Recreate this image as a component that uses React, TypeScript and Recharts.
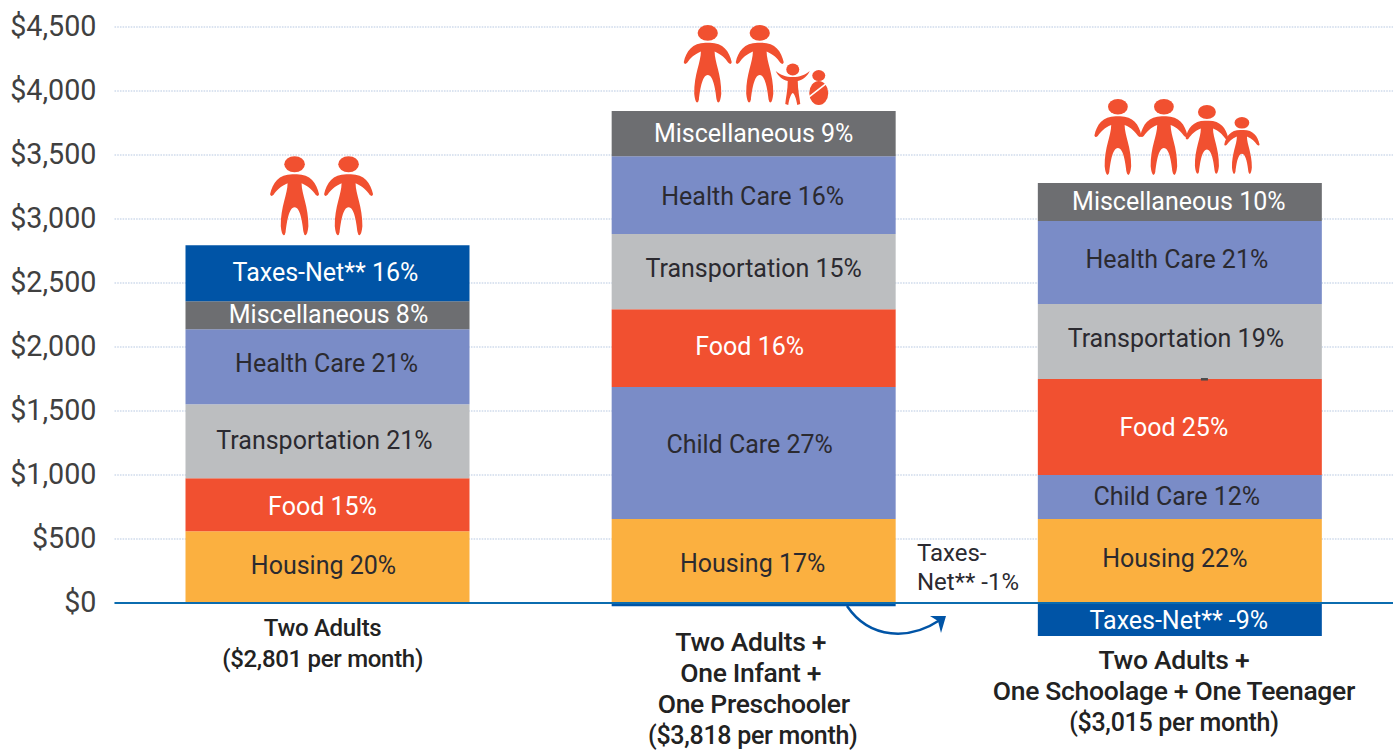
import {
  BarChart,
  Bar,
  XAxis,
  YAxis,
  CartesianGrid,
  LabelList,
  ReferenceLine,
  ReferenceDot,
} from "recharts";

const FONT = "Roboto, sans-serif";

const families = ["Two Adults", "Two Adults + Infant + Preschooler", "Two Adults + Schoolage + Teenager"];
const yTicks = [0, 500, 1000, 1500, 2000, 2500, 3000, 3500, 4000, 4500];

// dollars per month
const housing = [560, 656, 656];
const childCare = [0, 1031, 344];
const food = [415, 609, 750];
const transportation = [578, 586, 586];
const healthCare = [585, 609, 648];
const miscellaneous = [220, 352, 297];
const taxesNet = [437, -25, -258];

const housingPct = [20, 17, 22];
const childCarePct = [null, 27, 12];
const foodPct = [15, 16, 25];
const transportationPct = [21, 15, 19];
const healthCarePct = [21, 16, 21];
const miscellaneousPct = [8, 9, 10];
const taxesPct = [16, null, -9];

const categoryLines = [
  ["Two Adults", "($2,801 per month)"],
  ["Two Adults +", "One Infant +", "One Preschooler", "($3,818 per month)"],
  ["Two Adults +", "One Schoolage + One Teenager", "($3,015 per month)"],
];
const categoryBaselines = [636, 651, 669];
const categoryFontSizes = [
  [24, 24],
  [26.5, 26.5, 26.5, 25],
  [26.5, 26.5, 25],
];
const categoryShift = [
  [-5, -5],
  [-3, -3, 0, -1],
  [-6, -6, -6],
];

const series = [
  { key: "housing", name: "Housing", values: housing, pct: housingPct, color: "#FBB040", text: "#2b2a30" },
  { key: "childCare", name: "Child Care", values: childCare, pct: childCarePct, color: "#7A8CC7", text: "#2b2a30" },
  { key: "food", name: "Food", values: food, pct: foodPct, color: "#F15030", text: "#ffffff" },
  { key: "transportation", name: "Transportation", values: transportation, pct: transportationPct, color: "#BCBEC0", text: "#2b2a30" },
  { key: "healthCare", name: "Health Care", values: healthCare, pct: healthCarePct, color: "#7A8CC7", text: "#2b2a30" },
  { key: "miscellaneous", name: "Miscellaneous", values: miscellaneous, pct: miscellaneousPct, color: "#6D6E71", text: "#ffffff" },
  { key: "taxesNet", name: "Taxes-Net**", values: taxesNet, pct: taxesPct, color: "#0054A6", text: "#ffffff" },
];

// hand nudges for the labels, the original ones are not quite centred [dx, dy] per family
// childCare has no entry for the first family: the zero bar gets no label slot
const labelNudge: any = {
  housing: [[-4, -2], [-1, 2], [-5, -3]],
  childCare: [[-4, -9], [-3, -1]],
  food: [[-5, 2], [-4, -2], [-6, 0]],
  transportation: [[-3, -1], [0, -3], [-4, -3]],
  healthCare: [[-1, -3], [-1, 1], [-3, -3]],
  miscellaneous: [[1, -1], [0, 0], [-1, -1]],
  taxesNet: [[-2, -1], [0, 0], [-1, 1]],
};

const chartData = families.map((family, i) => {
  const row: any = { family, total: 0 };
  series.forEach((s) => {
    row[s.key] = s.values[i];
    row[s.key + "Label"] = s.pct[i] === null ? "" : `${s.name} ${s.pct[i]}%`;
    if (s.values[i] > 0) row.total += s.values[i];
  });
  return row;
});

// top of the food segment in the third stack, where the original has a stray dash
const strayDashValue = housing[2] + childCare[2] + food[2];

const ICON = "#F15030";

function Person({ x, y, scale = 1 }: any) {
  return (
    <g transform={`translate(${x} ${y}) scale(${scale})`} fill={ICON}>
      <ellipse cx={0} cy={8} rx={10.3} ry={8} />
      <path d="M0 18 C15 17 22 26 24.5 38 Q23.5 41 21 38.5 C18 34 14 30 7 27 C7 38 14 50 13.8 70 Q13 78 11 79 Q9.5 79 9 76 C8 68 6 51 0 51 C-6 51 -8 68 -9 76 Q-9.5 79 -11 79 Q-13 78 -13.8 70 C-14 50 -7 38 -7 27 C-14 30 -18 34 -21 38.5 Q-23.5 41 -24.5 38 C-22 26 -15 17 0 18 Z" />
    </g>
  );
}

function Child({ x, y }: any) {
  return (
    <g transform={`translate(${x} ${y})`} fill={ICON}>
      <ellipse cx={0} cy={6.5} rx={6.5} ry={6} />
      <path d="M-17 8 C-12 12 -7 14 0 14 C7 14 12 12 17 8 C15 13 10 17 5 18 C5 27 7 35 7.5 41 L4.5 42 C3.5 36 2 31 0 30 C-2 31 -3.5 36 -4.5 42 L-7.5 41 C-7 35 -5 27 -5 18 C-10 17 -15 13 -17 8 Z" />
    </g>
  );
}

function Baby({ x, y }: any) {
  return (
    <g transform={`translate(${x} ${y})`} fill={ICON}>
      <ellipse cx={0} cy={5.5} rx={6.5} ry={5.5} />
      <ellipse cx={0} cy={23} rx={9.5} ry={12} />
      <path d="M-10 27 L8 13" stroke="#ffffff" strokeWidth={1.6} fill="none" />
    </g>
  );
}

const TwoAdultsIcons = ({ cx, cy }: any) => (
  <g>
    <Person x={cx - 33} y={cy - 89} />
    <Person x={cx + 21} y={cy - 89} />
  </g>
);

const InfantIcons = ({ cx, cy }: any) => (
  <g>
    <Person x={cx - 46} y={cy - 86} scale={0.98} />
    <Person x={cx + 6} y={cy - 86} scale={0.98} />
    <Child x={cx + 39} y={cy - 48} />
    <Baby x={cx + 65} y={cy - 41} />
  </g>
);

const TeenIcons = ({ cx, cy }: any) => (
  <g>
    <Person x={cx - 62} y={cy - 84} scale={0.96} />
    <Person x={cx - 16} y={cy - 84} scale={0.96} />
    <Person x={cx + 27} y={cy - 78} scale={0.87} />
    <Person x={cx + 62} y={cy - 66} scale={0.72} />
  </g>
);

const familyIcons = [TwoAdultsIcons, InfantIcons, TeenIcons];

const StrayDash = ({ cx, cy }: any) => <rect x={cx + 21} y={cy - 1} width={7} height={2.5} fill="#4a4a4a" />;

function CategoryTick({ x, index }: any) {
  return (
    <text textAnchor="middle" fontFamily={FONT} fontWeight={500} fill="#222222" letterSpacing={-0.3}>
      {categoryLines[index].map((line, i) => (
        <tspan
          key={i}
          x={x + categoryShift[index][i]}
          y={categoryBaselines[index] + i * 31}
          fontSize={categoryFontSizes[index][i]}
        >
          {line}
        </tspan>
      ))}
    </text>
  );
}

function makeLabel(s: any) {
  return function SegmentLabel({ x, y, width, height, value, index }: any) {
    if (!value) return null;
    const [dx, dy] = labelNudge[s.key][index];
    return (
      <text
        x={x + width / 2 + dx}
        y={y + height / 2 + dy}
        textAnchor="middle"
        dominantBaseline="central"
        fontFamily={FONT}
        fontSize={25}
        fill={s.text}
      >
        {value}
      </text>
    );
  };
}

export default function App() {
  return (
    <div style={{ position: "absolute", left: 0, top: 0, width: 1395, height: 751, background: "#fff" }}>
      <BarChart
        width={1395}
        height={751}
        data={chartData}
        stackOffset="sign"
        margin={{ top: 27, right: 2, bottom: 0, left: 0 }}
      >
        <CartesianGrid
          vertical={false}
          stroke="#d0dbec"
          strokeWidth={1.5}
          strokeDasharray="1.6 1.1"
          syncWithTicks
        />
        <XAxis dataKey="family" height={1} axisLine={false} tickLine={false} tick={CategoryTick} interval={0} />
        <YAxis
          width={114.5}
          domain={[-1148, 4500]}
          ticks={yTicks}
          axisLine={false}
          tickLine={false}
          tickMargin={12}
          tickFormatter={(v: number) => `$${v.toLocaleString("en-US")}`}
          tick={{ fontFamily: FONT, fontSize: 28.7, fill: "#404040", dy: -1 }}
        />
        {series.map((s) => (
          <Bar key={s.key} dataKey={s.key} stackId="a" fill={s.color} barSize={284} isAnimationActive={false}>
            <LabelList dataKey={s.key + "Label"} content={makeLabel(s)} />
          </Bar>
        ))}
        <ReferenceLine y={0} stroke="#0B6CAF" strokeWidth={2} />
        {chartData.map((row, i) => (
          <ReferenceDot key={row.family} x={row.family} y={row.total} r={0} shape={familyIcons[i]} />
        ))}
        <ReferenceDot x={families[2]} y={strayDashValue} r={0} shape={StrayDash} />
        {/* note for the small negative taxes segment */}
        <text fontFamily={FONT} fontSize={24} fill="#2b2a30">
          <tspan x={917} y={561}>Taxes-</tspan>
          <tspan x={917} y={590}>Net** -1%</tspan>
        </text>
        <path d="M847 606 C870 640 910 640 940 620" fill="none" stroke="#0054A6" strokeWidth={2.5} />
        <path d="M930 616 L946 616 L941 633 L938 621 Z" fill="#0054A6" />
      </BarChart>
    </div>
  );
}
